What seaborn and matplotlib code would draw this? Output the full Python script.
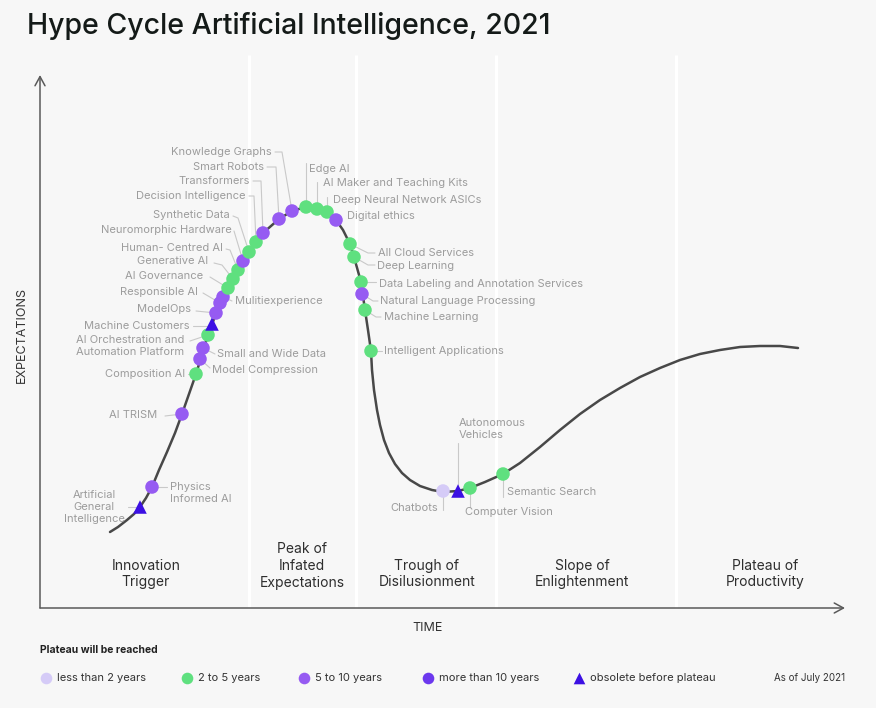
import numpy as np
import pandas as pd
import seaborn as sns
import matplotlib.pyplot as plt

# hype curve (time, expectations)
curve_time = [70, 78, 87, 94, 100, 106, 112, 119, 127, 135, 142, 149, 156, 168, 180, 193,
              209, 223, 239, 252, 266, 277, 287, 296, 303, 310, 314, 321, 325, 328, 331, 332,
              334, 337, 340, 344, 349, 355, 362, 370, 380, 392, 403, 418, 430, 445, 463, 480,
              500, 520, 540, 560, 580, 600, 620, 640, 660, 680, 700, 720, 740, 758]
curve_expect = [76, 81, 88, 94, 101, 110, 121, 138, 156, 175, 194, 214, 234, 273, 305, 329,
                356, 375, 389, 397, 401, 399, 396, 388, 378, 364, 351, 326, 298, 278, 257, 238,
                218, 198, 183, 168, 155, 144, 135, 128, 122, 118, 116, 117, 120, 126, 134, 145,
                161, 178, 194, 208, 220, 231, 240, 248, 254, 258, 261, 262, 262, 260]

technologies = ['Artificial\nGeneral\nIntelligence', 'Physics\nInformed AI', 'AI TRISM',
                'Composition AI', 'Model Compression', 'Small and Wide Data',
                'AI Orchestration and\nAutomation Platform', 'Machine Customers', 'ModelOps',
                'Responsible AI', 'Mulitiexperience', 'AI Governance', 'Generative AI',
                'Human- Centred AI', 'Neuromorphic Hardware', 'Synthetic Data',
                'Decision Intelligence', 'Transformers', 'Smart Robots', 'Knowledge Graphs',
                'Edge AI', 'AI Maker and Teaching Kits', 'Deep Neural Network ASICs',
                'Digital ethics', 'All Cloud Services', 'Deep Learning',
                'Data Labeling and Annotation Services', 'Natural Language Processing',
                'Machine Learning', 'Intelligent Applications', 'Chatbots',
                'Autonomous\nVehicles', 'Computer Vision', 'Semantic Search']
tech_time = [100, 112, 142, 156, 160, 163, 168, 172, 176, 180, 183, 188, 193, 198, 203, 209,
             216, 223, 239, 252, 266, 277, 287, 296, 310, 314, 321, 322, 325, 331, 403, 418,
             430, 463]
tech_expect = [101, 121, 194, 234, 249, 260, 273, 284, 295, 305, 311, 320, 329, 338, 347, 356,
               366, 375, 389, 397, 401, 399, 396, 388, 364, 351, 326, 314, 298, 257, 117, 117,
               120, 134]
tech_plateau = ['obsolete before plateau', '5 to 10 years', '5 to 10 years', '2 to 5 years',
                '5 to 10 years', '5 to 10 years', '2 to 5 years', 'obsolete before plateau',
                '5 to 10 years', '5 to 10 years', '5 to 10 years', '2 to 5 years',
                '2 to 5 years', '2 to 5 years', '5 to 10 years', '2 to 5 years',
                '2 to 5 years', '5 to 10 years', '5 to 10 years', '5 to 10 years',
                '2 to 5 years', '2 to 5 years', '2 to 5 years', '5 to 10 years',
                '2 to 5 years', '2 to 5 years', '2 to 5 years', '5 to 10 years',
                '2 to 5 years', '2 to 5 years', 'less than 2 years', 'obsolete before plateau',
                '2 to 5 years', '2 to 5 years']

phases = ['Innovation\nTrigger', 'Peak of\nInfated\nExpectations', 'Trough of\nDisilusionment',
          'Slope of\nEnlightenment', 'Plateau of\nProductivity']
phase_time = [106, 262, 387, 542, 725]
phase_bounds = [209, 316, 456, 636]

plateau_labels = ['less than 2 years', '2 to 5 years', '5 to 10 years', 'more than 10 years',
                  'obsolete before plateau']
plateau_colors = ['#d5cbf7', '#5fe07f', '#965bf2', '#6c38ee', '#3c10e3']

df = pd.DataFrame({'name': technologies, 'time': tech_time, 'expect': tech_expect,
                   'plateau': tech_plateau})
palette = dict(zip(plateau_labels, plateau_colors))
markers = {k: ('^' if k.startswith('obsolete') else 'o') for k in plateau_labels}

# pixel layout of the picture
W, H = 876, 708
X0, Y0 = 40, 608


def px(x, y):
    return x - X0, Y0 - y


# label position (pixels), alignment, leader points (pixels)
callouts = [
    ((94, 507), 'center', [(128, 507), (140, 507)]),
    ((170, 493), 'left', [(167, 487), (152, 487)]),
    ((157, 415), 'right', [(165, 416), (182, 414)]),
    ((185, 374), 'right', [(188, 374), (196, 374)]),
    ((212, 370), 'left', [(210, 368), (200, 359)]),
    ((217, 354), 'left', [(215, 354), (203, 348)]),
    ((184, 346), 'right', [(190, 341), (208, 335)]),
    ((189, 326), 'right', [(193, 326), (212, 326)]),
    ((191, 309), 'right', [(196, 311), (216, 313)]),
    ((198, 292), 'right', [(203, 293), (220, 303)]),
    ((235, 301), 'left', [(232, 301), (223, 297)]),
    ((203, 276), 'right', [(210, 277), (228, 288)]),
    ((208, 261), 'right', [(214, 263), (222, 265), (233, 279)]),
    ((223, 248), 'right', [(226, 249), (230, 250), (238, 270)]),
    ((232, 230), 'right', [(234, 231), (243, 261)]),
    ((230, 215), 'right', [(233, 216), (238, 218), (249, 252)]),
    ((246, 196), 'right', [(249, 196), (254, 196), (256, 242)]),
    ((250, 181), 'right', [(253, 181), (261, 181), (263, 233)]),
    ((264, 167), 'right', [(267, 167), (276, 167), (279, 219)]),
    ((272, 152), 'right', [(275, 152), (282, 152), (292, 211)]),
    ((309, 169), 'left', [(306, 163), (306, 207)]),
    ((323, 183), 'left', [(317, 182), (317, 209)]),
    ((333, 200), 'left', [(327, 197), (327, 212)]),
    ((347, 216), 'left', []),
    ((378, 253), 'left', [(375, 253), (368, 253), (350, 244)]),
    ((377, 266), 'left', [(375, 265), (368, 265), (354, 257)]),
    ((379, 284), 'left', [(376, 282), (361, 282)]),
    ((380, 301), 'left', [(378, 301), (373, 301), (362, 294)]),
    ((384, 317), 'left', [(381, 317), (376, 317), (365, 310)]),
    ((384, 351), 'left', [(382, 351), (371, 351)]),
    ((438, 508), 'right', [(443, 510), (443, 491)]),
    ((459, 429), 'left', [(458, 443), (458, 491)]),
    ((465, 512), 'left', [(470, 507), (470, 488)]),
    ((507, 492), 'left', [(503, 497), (503, 474)]),
]

sns.set_theme(style='white')
plt.rcParams['font.family'] = ['Inter', 'DejaVu Sans']
bg = '#f7f7f7'

fig = plt.figure(figsize=(W / 100, H / 100), dpi=100, facecolor=bg)
ax = fig.add_axes([X0 / W, (H - Y0) / H, (845 - X0) / W, (Y0 - 75) / H])
ax.set_facecolor(bg)
ax.set_xlim(0, 805)
ax.set_ylim(0, 533)
for s in ax.spines.values():
    s.set_visible(False)
ax.set_xticks([])
ax.set_yticks([])

# phase separators
ax.vlines(phase_bounds, 0, 553, colors='white', lw=2.2, zorder=0, clip_on=False)
for name, t in zip(phases, phase_time):
    n = name.count('\n') + 1
    ax.text(t, 34 if n == 2 else 42, name, ha='center', va='center', fontsize=10,
            color='#2e2e2e', linespacing=1.25)

# axis arrows
arrow = dict(arrowstyle='->,head_length=0.55,head_width=0.3', color='#5a5a5a', lw=1.1,
             shrinkA=0, shrinkB=0)
ax.annotate('', xy=(0, 1), xytext=(0, 0), xycoords='axes fraction', arrowprops=arrow)
ax.annotate('', xy=(1, 0), xytext=(0, 0), xycoords='axes fraction', arrowprops=arrow)

# leaders and labels
for name, ((lx, ly), ha, pts) in zip(technologies, callouts):
    if pts:
        xs, ys = zip(*[px(x, y) for x, y in pts])
        ax.plot(xs, ys, color='#c9c9c9', lw=0.8, zorder=1, clip_on=False)
    tx, ty = px(lx, ly)
    ax.text(tx, ty, name, ha=ha, va='center', fontsize=8, color='#9c9c9c',
            linespacing=1.25, multialignment='center' if ha == 'center' else ha,
            clip_on=False)

sns.lineplot(x=curve_time, y=curve_expect, sort=False, color='#484848', lw=1.8, ax=ax,
             zorder=2)
sns.scatterplot(data=df, x='time', y='expect', hue='plateau', style='plateau',
                palette=palette, markers=markers, s=95, linewidth=0, legend=False,
                ax=ax, zorder=3)
ax.set_xlabel('')
ax.set_ylabel('')

# overlay in pixel units for title and legend
lax = fig.add_axes([0, 0, 1, 1])
lax.set_xlim(0, W)
lax.set_ylim(H, 0)
lax.axis('off')
lax.patch.set_alpha(0)

lax.text(27, 26, 'Hype Cycle Artificial Intelligence, 2021', fontsize=20.5, fontweight='medium',
         color='#141a18', va='center', ha='left')
lax.text(22, 335, 'EXPECTATIONS', rotation=90, fontsize=9, color='#333333',
         ha='center', va='center')
lax.text(428, 628, 'TIME', fontsize=9, color='#333333', ha='center', va='center')

lax.text(40, 650, 'Plateau will be reached', fontsize=7.5, fontweight='bold',
         color='#222222', va='center')
leg_x = [46, 187, 304, 428, 579]
for lab, col, x in zip(plateau_labels, plateau_colors, leg_x):
    lax.scatter([x], [678], s=70, color=col, marker=markers[lab], linewidths=0)
    lax.text(x + 11, 678, lab, fontsize=8, color='#333333', va='center', ha='left')
lax.text(845, 678, 'As of July 2021', fontsize=7, color='#333333', va='center', ha='right')

fig.savefig('out.png', dpi=100, facecolor=bg)
